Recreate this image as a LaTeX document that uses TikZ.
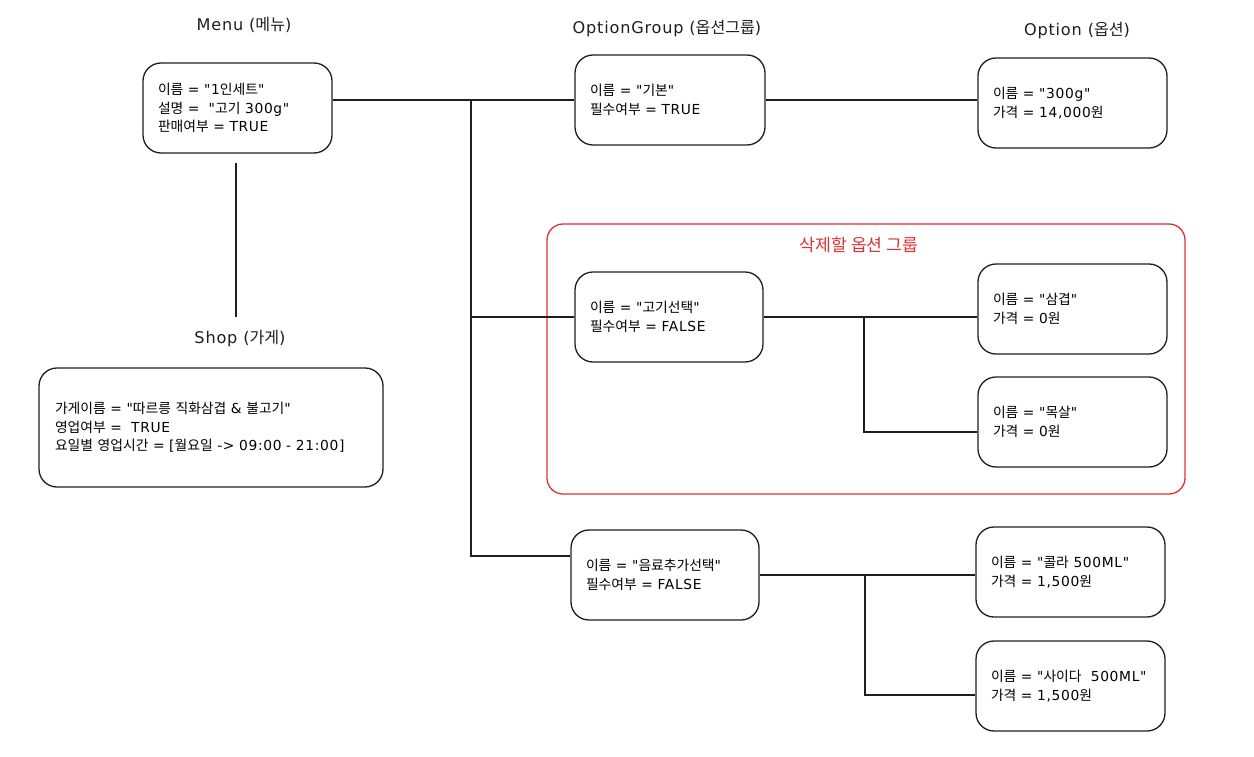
\documentclass[tikz,border=0pt]{standalone}
\usepackage{fontspec}
\setmainfont{DejaVu Sans}[Ligatures=TeXOff, Scale=1.15, LetterSpace=5]
\newfontfamily\latinfont{DejaVu Sans}[Ligatures=TeXOff, Scale=1.15, LetterSpace=5]
\newfontfamily\krfont{Noto Sans CJK KR}[Ligatures=TeXOff, Scale=1.15]
\usepackage{xcolor}
\usepackage{tikz}
\definecolor{inkblack}{RGB}{30, 30, 30}
\definecolor{deletered}{RGB}{224, 49, 49}
\usetikzlibrary{positioning, calc}

% Hangul syllables switch to the Korean font
\XeTeXinterchartokenstate=1
\newXeTeXintercharclass\hangulclass
\newcount\hangulcode
\hangulcode="AC00
\loop
  \XeTeXcharclass\hangulcode=\hangulclass
  \advance\hangulcode by 1
\ifnum\hangulcode<"D7A4 \repeat
\XeTeXinterchartoks 0 \hangulclass = {\krfont}
\XeTeXinterchartoks 4095 \hangulclass = {\krfont}
\XeTeXinterchartoks \hangulclass 0 = {\latinfont}
\XeTeXinterchartoks 4095 0 = {\latinfont}

\tikzset{
    entitybox/.style={draw=inkblack, line width=1.3pt, rounded corners=18pt,
        align=left, inner xsep=15pt, inner ysep=0pt, minimum height=90pt,
        font=\fontsize{12}{18.5}\selectfont},
    titlelabel/.style={font=\fontsize{14}{18}\selectfont, text=inkblack},
    link/.style={draw=inkblack, line width=1.3pt},
    deletezone/.style={draw=deletered, line width=1.3pt, rounded corners=16pt,
        inner sep=0pt}
}

\begin{document}
\begin{tikzpicture}[x=1pt, y=-1pt]
    \useasboundingbox (0,0) rectangle (1254,757);

    % titles
    \node[titlelabel] (menutitle) at (244,25) {Menu (메뉴)};
    \node[titlelabel] (shoptitle) at (240,339) {Shop (가게)};
    \node[titlelabel] (grouptitle) at (667,29) {OptionGroup (옵션그룹)};
    \node[titlelabel] (optiontitle) at (1077,31) {Option (옵션)};

    % area of the group to delete
    \node[deletezone, minimum width=638pt, minimum height=270pt] (deletezone) at (866,359) {};
    \node[titlelabel, font=\fontsize{15}{18}\selectfont, text=deletered] (deletetitle) at (859,245) {삭제할 옵션 그룹};

    % menu and shop
    \node[entitybox, text width=159pt] (menu) at (237.5,108)
        {이름 = "1인세트"\\설명 = \ "고기 300g"\\판매여부 = TRUE};
    \node[entitybox, text width=312pt, minimum height=119pt, inner xsep=16pt] (shop) at (211,427.5)
        {가게이름 = "따르릉 직화삼겹 \& 불고기"\\영업여부 = \ TRUE\\요일별 영업시간 = [월요일 -> 09:00 - 21:00]};

    % option groups
    \node[entitybox, text width=160pt] (grpbasic) at (670,100)
        {이름 = "기본"\\필수여부 = TRUE};
    \node[entitybox, text width=158pt] (grpmeat) at (669,317)
        {이름 = "고기선택"\\필수여부 = FALSE};
    \node[entitybox, text width=158pt] (grpdrink) at (665,575)
        {이름 = "음료추가선택"\\필수여부 = FALSE};

    % options
    \node[entitybox, text width=159pt] (optweight) at (1072.5,103)
        {이름 = "300g"\\가격 = 14,000원};
    \node[entitybox, text width=159pt] (optpork) at (1072.5,309)
        {이름 = "삼겹"\\가격 = 0원};
    \node[entitybox, text width=159pt] (optneck) at (1072.5,422)
        {이름 = "목살"\\가격 = 0원};
    \node[entitybox, text width=159pt] (optcola) at (1070.5,572)
        {이름 = "콜라 500ML"\\가격 = 1,500원};
    \node[entitybox, text width=159pt] (optcider) at (1070.5,686)
        {이름 = "사이다 \ 500ML"\\가격 = 1,500원};

    % connectors
    \coordinate (trunktop) at (471,100);
    \coordinate (trunkbottom) at (471,556);
    \coordinate (meatsplit) at (864,317);
    \coordinate (drinksplit) at (865,575);

    \draw[link] ($(menu.south)+(-1.5,9)$) -- ($(menu.south |- shoptitle.north)+(-1.5,-10)$);
    \draw[link] (menu.east |- grpbasic.west) -- (grpbasic.west);
    \draw[link] (trunktop) -- (trunkbottom) -- (grpdrink.west |- trunkbottom);
    \draw[link] (trunktop |- grpmeat.west) -- (grpmeat.west);

    \draw[link] (grpbasic.east) -- (optweight.west |- grpbasic.east);
    \draw[link] (grpmeat.east) -- (optpork.west |- grpmeat.east);
    \draw[link] (meatsplit) |- ([yshift=-10pt]optneck.west);
    \draw[link] (grpdrink.east) -- (optcola.west |- grpdrink.east);
    \draw[link] (drinksplit) |- ([yshift=-9pt]optcider.west);
\end{tikzpicture}
\end{document}
